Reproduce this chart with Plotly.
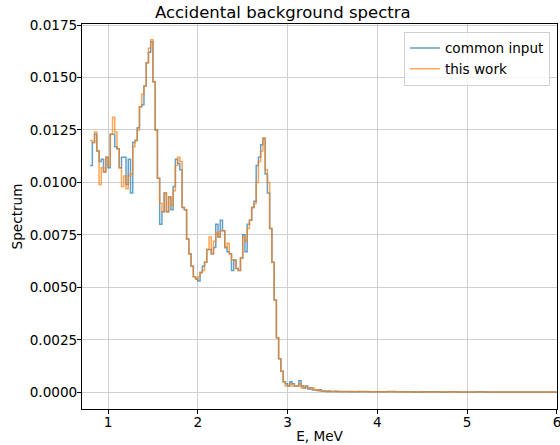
import numpy as np
import plotly.graph_objects as go

# Energy binning (MeV): fine bins 0.8-3.6, coarse bins 3.6-6.0
E_start = 0.8
fine_width = 0.025
coarse_start = 3.6
coarse_width = 0.1

common_input_fine = [
    0.0108, 0.0119, 0.0123, 0.0115, 0.0110, 0.0111, 0.0105, 0.0112, 0.0107, 0.0123,
    0.0123, 0.0117, 0.0116, 0.0107, 0.0112, 0.0112, 0.0099, 0.0111, 0.0095, 0.0119,
    0.0120, 0.0126, 0.0136, 0.0137, 0.0146, 0.0157, 0.0162, 0.0167, 0.0148, 0.0125,
    0.0102, 0.0080, 0.0086, 0.0095, 0.0086, 0.0093, 0.0087, 0.0098, 0.0111, 0.0109,
    0.0106, 0.0088, 0.0087, 0.0073, 0.0066, 0.0060, 0.0055, 0.0054, 0.0053, 0.0057,
    0.0060, 0.0062, 0.0068, 0.0068, 0.0066, 0.0069, 0.0080, 0.0074, 0.0082, 0.0077,
    0.0069, 0.0067, 0.0066, 0.0058, 0.0063, 0.0059, 0.0058, 0.0064, 0.0075, 0.0067,
    0.0080, 0.0082, 0.0088, 0.0091, 0.0108, 0.0112, 0.0118, 0.0121, 0.0104, 0.0095,
    0.0078, 0.0062, 0.0044, 0.0026, 0.0016, 0.0010, 0.0005, 0.0004, 0.0003, 0.0005,
    0.0004, 0.0003, 0.0003, 0.00055, 0.0003, 0.0002, 0.0003, 0.00015, 0.0002, 0.0001,
    0.0001, 0.00008, 0.00012, 0.00006, 0.00005, 0.00004, 0.00006, 0.00004, 0.00003, 0.00005,
    0.00003, 0.00004,
]
this_work_fine = [
    0.0120, 0.0119, 0.0124, 0.0115, 0.0099, 0.0107, 0.0105, 0.0112, 0.0108, 0.0123,
    0.0131, 0.0124, 0.0116, 0.0107, 0.0098, 0.0103, 0.0097, 0.0103, 0.0104, 0.0117,
    0.0120, 0.0125, 0.0136, 0.0142, 0.0146, 0.0157, 0.0164, 0.0168, 0.0148, 0.0125,
    0.0102, 0.0090, 0.0086, 0.0095, 0.0086, 0.0093, 0.0089, 0.0096, 0.0108, 0.0112,
    0.0110, 0.0088, 0.0087, 0.0073, 0.0066, 0.0060, 0.0055, 0.0054, 0.0055, 0.0057,
    0.0058, 0.0062, 0.0068, 0.0074, 0.0066, 0.0072, 0.0076, 0.0074, 0.0077, 0.0077,
    0.0069, 0.0071, 0.0066, 0.0063, 0.0063, 0.0059, 0.0058, 0.0064, 0.0074, 0.0072,
    0.0078, 0.0082, 0.0088, 0.0090, 0.0100, 0.0110, 0.0115, 0.0121, 0.0106, 0.0100,
    0.0078, 0.0062, 0.0044, 0.0026, 0.0016, 0.0010, 0.0005, 0.0003, 0.0003, 0.0004,
    0.0003, 0.0003, 0.0003, 0.0004, 0.0002, 0.0003, 0.0002, 0.0002, 0.00015, 0.0002,
    0.0001, 0.0001, 0.00006, 0.00005, 0.00006, 0.00004, 0.00004, 0.00003, 0.00004, 0.00003,
    0.00003, 0.00002,
]
common_input_coarse = [
    0.00003, 0.00002, 0.00003, 0.00002, 0.00002, 0.00004, 0.00002, 0.00002, 0.00001, 0.00002,
    0.00002, 0.00001, 0.00002, 0.00001, 0.00001, 0.00002, 0.00001, 0.00001, 0.00001, 0.00001,
    0.00001, 0.00001, 0.00001, 0.00001,
]
this_work_coarse = [
    0.00002, 0.00003, 0.00002, 0.00002, 0.00002, 0.00002, 0.00002, 0.00001, 0.00002, 0.00001,
    0.00001, 0.00002, 0.00001, 0.00001, 0.00001, 0.00001, 0.00001, 0.00001, 0.00001, 0.00001,
    0.00001, 0.00001, 0.00001, 0.00001,
]

x_ticks = [1, 2, 3, 4, 5, 6]
y_ticks = [0.0, 0.0025, 0.0050, 0.0075, 0.0100, 0.0125, 0.0150, 0.0175]

n_fine = len(common_input_fine)
n_coarse = len(common_input_coarse)
edges = np.concatenate([
    E_start + fine_width * np.arange(n_fine),
    coarse_start + coarse_width * np.arange(n_coarse + 1),
])


def step_xy(vals):
    y = list(vals) + [vals[-1]]
    return edges, y


fig = go.Figure()
for name, vals, color in [
    ("common input", common_input_fine + common_input_coarse, "rgba(31,119,180,0.7)"),
    ("this work", this_work_fine + this_work_coarse, "rgba(255,127,14,0.7)"),
]:
    x, y = step_xy(vals)
    fig.add_trace(go.Scatter(
        x=x, y=y, mode="lines", name=name,
        line=dict(shape="hv", color=color, width=1.5),
        hoverinfo="skip",
    ))

FS = 13.6
axis_common = dict(
    showline=True, linecolor="black", linewidth=1, mirror=True,
    ticks="outside", ticklen=4, tickcolor="black",
    showgrid=True, gridcolor="#cfcfcf", gridwidth=1,
    zeroline=False, automargin=False, ticklabeloverflow="allow",
    tickfont=dict(family="DejaVu Sans", size=FS, color="black"),
)

fig.update_layout(
    width=560, height=445,
    margin=dict(l=82, r=3, t=24, b=36),
    paper_bgcolor="white", plot_bgcolor="white",
    font=dict(family="DejaVu Sans", size=FS, color="black"),
    title=dict(text="Accidental background spectra", x=0.505, xanchor="center",
               y=0.972, yanchor="middle", font=dict(size=16.5, family="DejaVu Sans")),
    legend=dict(x=0.985, y=0.98, xanchor="right", yanchor="top",
                bgcolor="rgba(255,255,255,0.8)", bordercolor="#d0d0d0", borderwidth=1,
                font=dict(size=FS, family="DejaVu Sans"), tracegroupgap=0),
    showlegend=True,
)
fig.update_xaxes(range=[0.71, 6.0005], tickvals=x_ticks, ticktext=[str(t) for t in x_ticks],
                 ticklabelstandoff=-3,
                 title=dict(text="E, MeV", standoff=2, font=dict(size=FS)), **axis_common)
fig.update_yaxes(range=[-0.0008, 0.01755], tickvals=y_ticks,
                 ticktext=[f"{t:.4f}" for t in y_ticks],
                 ticklabelstandoff=-3,
                 title=dict(text="Spectrum", standoff=3, font=dict(size=FS)), **axis_common)

fig.write_html("out.html", config={"displayModeBar": False},
               post_script="document.body.style.margin='0';")
